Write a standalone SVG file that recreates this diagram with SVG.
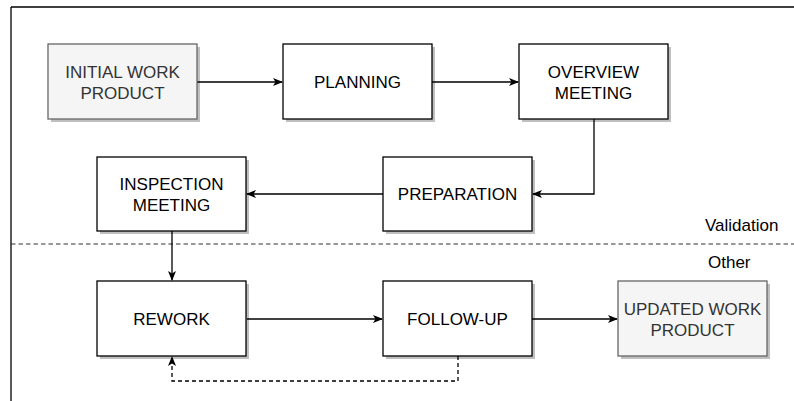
<svg xmlns="http://www.w3.org/2000/svg" width="794" height="401" viewBox="0 0 794 401">
<style>
.box{fill:#fff;stroke:#000;stroke-width:1.3}
.gbox{fill:#f5f5f5;stroke:#666;stroke-width:1.3}
.sh{fill:#000;fill-opacity:0.25}
.t{font-family:"Liberation Sans",Arial,sans-serif;font-size:17px;text-anchor:middle;fill:#000}
.gt{fill:#333}
.lbl{font-family:"Liberation Sans",Arial,sans-serif;font-size:17px;fill:#000}
.c{fill:none;stroke:#000;stroke-width:1.3}
.d{stroke-dasharray:4 3}
</style>
<defs>
<marker id="ah" viewBox="0 0 10 8" refX="9" refY="4" markerWidth="10" markerHeight="8" markerUnits="userSpaceOnUse" orient="auto">
<path d="M0,0 L10,4 L0,8 L2.5,4 z" fill="#000"/>
</marker>
</defs>
<rect x="0" y="0" width="794" height="401" fill="#fff"/>
<g id="frame">
<path d="M11,7 H794 M11,7 V401" fill="none" stroke="#000" stroke-width="1.3"/>
<path d="M11,244 H794" fill="none" stroke="#333" stroke-width="1.2" stroke-dasharray="4.5 3"/>
<text class="lbl" x="705" y="231">Validation</text>
<text class="lbl" x="708" y="268">Other</text>
</g>
<g id="connectors">
<path class="c" d="M197,82 H282" marker-end="url(#ah)"/>
<path class="c" d="M432,82 H518" marker-end="url(#ah)"/>
<path class="c" d="M594,119 V194 H533" marker-end="url(#ah)"/>
<path class="c" d="M383,194 H247" marker-end="url(#ah)"/>
<path class="c" d="M172,231 V280" marker-end="url(#ah)"/>
<path class="c" d="M247,319 H382" marker-end="url(#ah)"/>
<path class="c" d="M532,319 H617" marker-end="url(#ah)"/>
<path class="c d" d="M458,356 V381 H172 V357" marker-end="url(#ah)"/>
</g>
<g id="initial">
<rect class="sh" x="51" y="47" width="149" height="75"/>
<rect class="gbox" x="48" y="44" width="149" height="75"/>
<text class="t gt" x="122.5" y="78">INITIAL WORK</text>
<text class="t gt" x="122.5" y="99">PRODUCT</text>
</g>
<g id="planning">
<rect class="sh" x="286" y="47" width="149" height="75"/>
<rect class="box" x="283" y="44" width="149" height="75"/>
<text class="t" x="357.5" y="88">PLANNING</text>
</g>
<g id="overview">
<rect class="sh" x="522" y="47" width="149" height="75"/>
<rect class="box" x="519" y="44" width="149" height="75"/>
<text class="t" x="593.5" y="78">OVERVIEW</text>
<text class="t" x="593.5" y="99">MEETING</text>
</g>
<g id="preparation">
<rect class="sh" x="386" y="160" width="149" height="74"/>
<rect class="box" x="383" y="157" width="149" height="74"/>
<text class="t" x="457.5" y="200">PREPARATION</text>
</g>
<g id="inspection">
<rect class="sh" x="100" y="160" width="149" height="74"/>
<rect class="box" x="97" y="157" width="149" height="74"/>
<text class="t" x="171.5" y="190">INSPECTION</text>
<text class="t" x="171.5" y="211">MEETING</text>
</g>
<g id="rework">
<rect class="sh" x="100" y="284" width="149" height="75"/>
<rect class="box" x="97" y="281" width="149" height="75"/>
<text class="t" x="171.5" y="325">REWORK</text>
</g>
<g id="followup">
<rect class="sh" x="386" y="284" width="149" height="75"/>
<rect class="box" x="383" y="281" width="149" height="75"/>
<text class="t" x="457.5" y="325">FOLLOW-UP</text>
</g>
<g id="updated">
<rect class="sh" x="621" y="284" width="149" height="75"/>
<rect class="gbox" x="618" y="281" width="149" height="75"/>
<text class="t gt" x="692.5" y="315">UPDATED WORK</text>
<text class="t gt" x="692.5" y="336">PRODUCT</text>
</g>
</svg>
